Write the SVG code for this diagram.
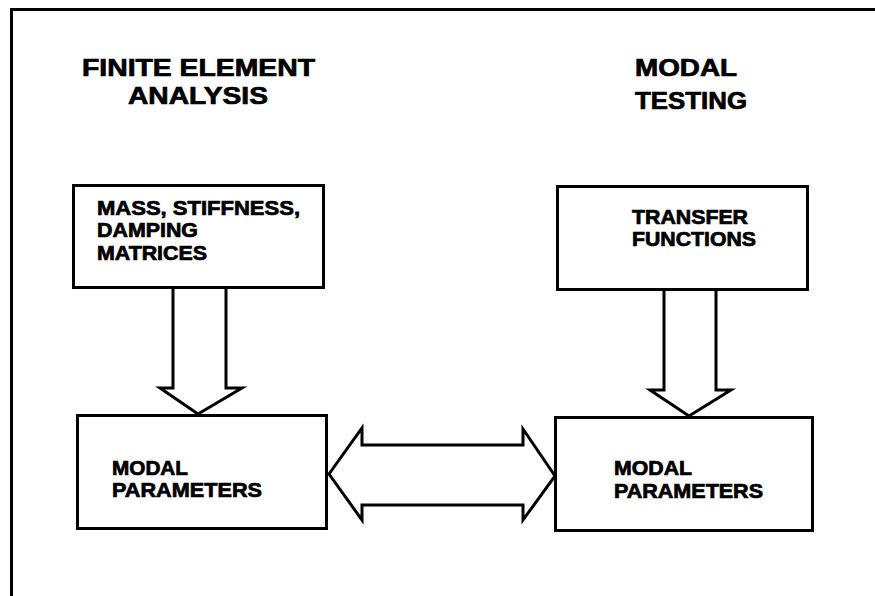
<svg xmlns="http://www.w3.org/2000/svg" width="875" height="596" viewBox="0 0 875 596">
<style>
.box{fill:#fff;stroke:#000;stroke-width:3}
.arr{fill:#fff;stroke:#000;stroke-width:3;stroke-linejoin:miter}
.t{font-family:"Liberation Sans",Arial,sans-serif;font-weight:bold;fill:#000;stroke:#000;stroke-width:0.7}
.title{font-size:23px}
.lbl{font-size:19.5px}
</style>
<rect width="875" height="596" fill="#fff"/>
<path d="M11.5,596 V9.5 H875" fill="none" stroke="#000" stroke-width="3"/>
<g id="title-fea">
<text class="t title" x="82" y="75.5" textLength="233" lengthAdjust="spacingAndGlyphs">FINITE ELEMENT</text>
<text class="t title" x="128" y="104" textLength="140" lengthAdjust="spacingAndGlyphs">ANALYSIS</text>
</g>
<g id="title-mt">
<text class="t title" x="635" y="75.5" textLength="102" lengthAdjust="spacingAndGlyphs">MODAL</text>
<text class="t title" x="635" y="109" textLength="112" lengthAdjust="spacingAndGlyphs">TESTING</text>
</g>
<g id="connectors">
<path class="arr" d="M173,288 V388 H160 L198,414 L242,388 H226 V288"/>
<path class="arr" d="M664,290 V390 H650 L689,416 L731,390 H716 V290"/>
<path class="arr" d="M329,474 L362,428 V445 H523 V429 L555,476 L523,520 V505 H362 V520 Z"/>
</g>
<g id="matrices">
<rect class="box" x="73.5" y="185.5" width="250" height="102"/>
<text class="t lbl" x="97" y="215" textLength="203" lengthAdjust="spacingAndGlyphs">MASS, STIFFNESS,</text>
<text class="t lbl" x="97" y="237" textLength="101" lengthAdjust="spacingAndGlyphs">DAMPING</text>
<text class="t lbl" x="97" y="260" textLength="110" lengthAdjust="spacingAndGlyphs">MATRICES</text>
</g>
<g id="transfer">
<rect class="box" x="557.5" y="186.5" width="250" height="103"/>
<text class="t lbl" x="632" y="224" textLength="116" lengthAdjust="spacingAndGlyphs">TRANSFER</text>
<text class="t lbl" x="632" y="246" textLength="124" lengthAdjust="spacingAndGlyphs">FUNCTIONS</text>
</g>
<g id="modal-fea">
<rect class="box" x="77.5" y="415.5" width="249" height="113"/>
<text class="t lbl" x="112" y="475" textLength="76" lengthAdjust="spacingAndGlyphs">MODAL</text>
<text class="t lbl" x="112" y="497" textLength="150" lengthAdjust="spacingAndGlyphs">PARAMETERS</text>
</g>
<g id="modal-mt">
<rect class="box" x="555.5" y="417.5" width="257" height="113"/>
<text class="t lbl" x="614" y="475" textLength="78" lengthAdjust="spacingAndGlyphs">MODAL</text>
<text class="t lbl" x="614" y="498" textLength="149" lengthAdjust="spacingAndGlyphs">PARAMETERS</text>
</g>
</svg>
